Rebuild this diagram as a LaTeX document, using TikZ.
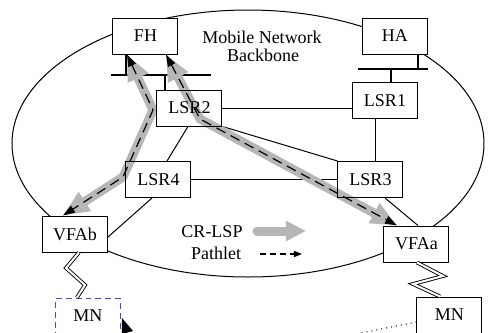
\documentclass[tikz,border=0pt]{standalone}
\usepackage{fontspec}
\setmainfont{Liberation Serif}
\usetikzlibrary{arrows.meta}
\pgfdeclarelayer{bg}
\pgfdeclarelayer{mid}
\pgfsetlayers{bg,mid,main}
\definecolor{lspgray}{RGB}{182,182,182}
\definecolor{mnblue}{RGB}{70,70,235}
\begin{document}
\begin{tikzpicture}[x=0.5pt,y=-0.5pt,
  font=\fontsize{9}{10}\selectfont,
  box/.style={draw, line width=0.5pt, minimum width=32.5pt, minimum height=18pt, inner sep=0pt},
  link/.style={line width=0.5pt},
  bus/.style={line width=1pt},
  lsp/.style={line width=4.5pt, lspgray, line cap=round, line join=round,
    {Triangle[length=13pt,width=10.5pt]}-{Triangle[length=13pt,width=10.5pt]}},
  pathlet/.style={line width=0.6pt, dash pattern=on 5pt off 3pt,
    {Triangle[length=6pt,width=4pt]}-{Triangle[length=6pt,width=4pt]}},
  bolt/.style={line width=0.45pt, double=white, double distance=1pt, line join=miter},
]
\useasboundingbox (0,0) rectangle (489,333);

% routers and hosts
\node[box] (fh)   at (145.5,36)  {FH};
\node[box] (ha)   at (395,36)    {HA};
\node[box] (lsr2) at (189.5,108) {LSR2};
\node[box] (lsr1) at (385,100.5) {LSR1};
\node[box] (lsr4) at (158.5,179.5) {LSR4};
\node[box] (lsr3) at (370.5,179.5) {LSR3};
\node[box] (vfab) at (75,234)    {VFAb};
\node[box] (vfaa) at (416.5,244) {VFAa};
\node[box] (mna)  at (449.5,315) {MN};
\node[box, draw=mnblue, dash pattern=on 3pt off 2pt] (mnb) at (88,316) {MN};

\node (title1) at (262,37) {Mobile Network};
\node (title2) at (263,55) {Backbone};

% legend
\node (lgcr) at (212,232) {CR-LSP};
\node (lgpl) at (216,253) {Pathlet};
\coordinate (lgcrA) at (257,231);
\coordinate (lgcrB) at (306,231);
\coordinate (lgplA) at (260,254);
\coordinate (lgplB) at (302,254);

% LAN segments
\coordinate (fhbusL) at (111,75);
\coordinate (fhbusR) at (211,75);
\coordinate (fhtap)  at (126,75);
\coordinate (l2tap)  at (165,75);
\coordinate (habusL) at (358,69);
\coordinate (habusR) at (428,69);
\coordinate (hatap)  at (418,69);
\coordinate (l1tap)  at (391,69);

\begin{pgfonlayer}{bg}
  % backbone outline
  \draw[link] (248,143.5) ellipse [x radius=118pt, y radius=66.75pt];
  % white box fills hide the outline
  \foreach \n in {fh,ha,lsr2,lsr1,lsr4,lsr3,vfab,vfaa,mna,mnb}
    \fill[white] (\n.south west) rectangle (\n.north east);
  % links
  \draw[link] (lsr2.east) -- (lsr2.east -| lsr1.west);
  \draw[link] ([xshift=-4.5pt]lsr1.south) -- ([xshift=-4.5pt]lsr1.south |- lsr3.north);
  \draw[link] (lsr2.south east) -- (lsr3.north west);
  \draw[link] ([xshift=-0.75pt]lsr2.south) -- ([xshift=4.25pt]lsr4.north);
  \draw[link] (lsr4.east) -- (lsr3.west);
  \draw[link] ([xshift=-3.25pt]lsr4.south) -- ([yshift=-1.5pt]vfab.east);
  \draw[link] ([xshift=7.25pt]lsr3.south) -- ([xshift=0.75pt]vfaa.north);
  % buses
  \draw[bus] (fhbusL) -- (fhbusR);
  \draw[bus] (fhtap) -- (fhtap |- fh.south);
  \draw[bus] (l2tap) -- (l2tap |- lsr2.north);
  \draw[bus] (habusL) -- (habusR);
  \draw[bus] (hatap) -- (hatap |- ha.south);
  \draw[bus] (l1tap) -- (l1tap |- lsr1.north);
\end{pgfonlayer}

\begin{pgfonlayer}{mid}
  \draw[lsp] ([xshift=-9.25pt]fh.south) -- (153,110) -- (123,177) -- ([xshift=-6pt]vfab.north);
  \draw[lsp] ([xshift=10.25pt]fh.south) -- (200,119) -- ([xshift=-9.75pt]vfaa.north);
  \draw[line width=4.5pt, lspgray, line cap=round, -{Triangle[length=10pt,width=9.5pt]}] (lgcrA) -- (lgcrB);
\end{pgfonlayer}

% pathlets
\draw[pathlet] ([xshift=-9.25pt]fh.south) -- (153,110) -- (123,177) -- ([xshift=-6pt]vfab.north);
\draw[pathlet] ([xshift=10.25pt]fh.south) -- (200,119) -- ([xshift=-9.75pt]vfaa.north);
\draw[line width=0.6pt, dash pattern=on 3pt off 2pt, -{Triangle[length=4pt,width=3pt]}] (lgplA) -- (lgplB);

% wireless links
\draw[bolt] ([xshift=2pt]vfab.south) -- (66,268) -- (85,285) -- ([xshift=-5.5pt]mnb.north);
\draw[bolt] ([xshift=0.25pt]vfaa.south) -- (443,276) -- (413,284) -- ([xshift=-4.75pt]mna.north);

% dotted trail and pointer
\coordinate (dotend) at (356,334);
\draw[dotted, line width=0.5pt] ([yshift=-3.5pt]mna.west) -- (dotend);
\fill (122,318) -- (133,331) -- (122,334) -- cycle;
\end{tikzpicture}
\end{document}
